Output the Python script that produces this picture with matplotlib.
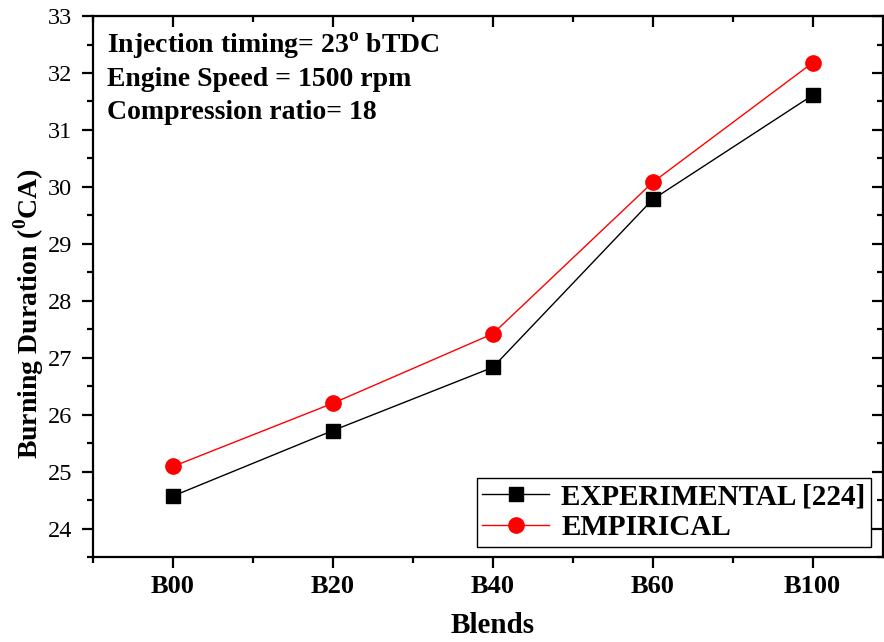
import matplotlib
matplotlib.use('Agg')
import matplotlib.pyplot as plt
from matplotlib.ticker import MultipleLocator

plt.rcParams['font.family'] = ['Liberation Serif', 'DejaVu Serif']
plt.rcParams['mathtext.fontset'] = 'custom'
plt.rcParams['mathtext.rm'] = 'Liberation Serif'
plt.rcParams['mathtext.bf'] = 'Liberation Serif:bold'

blends = ['B00', 'B20', 'B40', 'B60', 'B100']
experimental = [24.57, 25.72, 26.83, 29.78, 31.61]
empirical = [25.09, 26.20, 27.42, 30.08, 32.18]

x = list(range(len(blends)))

fig = plt.figure(figsize=(8.84, 6.42), dpi=100)
ax = fig.add_axes([0.1052, 0.1324, 0.8937, 0.8426])

ax.plot(x, experimental, color='black', lw=1, marker='s', ms=9.5,
        label='EXPERIMENTAL [224]')
ax.plot(x, empirical, color='red', lw=1, marker='o', ms=11,
        label='EMPIRICAL')

ax.set_xlim(-0.5, 4.44)
ax.set_ylim(23.5, 33)
ax.set_xticks(x)
ax.set_xticklabels(blends, fontweight='bold', fontsize=19)
ax.xaxis.set_minor_locator(MultipleLocator(0.5))
ax.yaxis.set_major_locator(MultipleLocator(1))
ax.yaxis.set_minor_locator(MultipleLocator(0.5))

for s in ax.spines.values():
    s.set_linewidth(1.6)

ax.tick_params(which='major', direction='out', length=8, width=1.6, pad=5)
ax.tick_params(which='minor', direction='out', length=4, width=1.6)
ax.tick_params(axis='y', which='major', labelsize=17.5, pad=7)
ax.tick_params(axis='x', which='major', pad=5)

# mirrored ticks on top and right (inward, no labels)
axt = ax.secondary_xaxis('top')
axt.set_xticks(x)
axt.set_xticklabels([])
axt.xaxis.set_minor_locator(MultipleLocator(0.5))
axt.tick_params(which='major', direction='in', length=8, width=1.6)
axt.tick_params(which='minor', direction='in', length=4, width=1.6)
axr = ax.secondary_yaxis('right')
axr.yaxis.set_major_locator(MultipleLocator(1))
axr.yaxis.set_minor_locator(MultipleLocator(0.5))
axr.set_yticklabels([])
axr.tick_params(which='major', direction='in', length=8, width=1.6)
axr.tick_params(which='minor', direction='in', length=4, width=1.6)

ax.set_xlabel('Blends', fontsize=21, fontweight='bold', va='center')
ax.xaxis.set_label_coords(0.506, -0.1275)
ax.set_ylabel(r'Burning Duration ($^{\mathbf{0}}$CA)', fontsize=20,
              fontweight='bold', va='center')
ax.yaxis.set_label_coords(-0.081, 0.45)

ax.text(0.018, 0.945, r'Injection timing= 23$^{\mathbf{o}}$ bTDC',
        transform=ax.transAxes, fontsize=20, fontweight='bold', va='center')
ax.text(0.018, 0.882, 'Engine Speed = 1500 rpm',
        transform=ax.transAxes, fontsize=20, fontweight='bold', va='center')
ax.text(0.018, 0.821, 'Compression ratio= 18',
        transform=ax.transAxes, fontsize=20, fontweight='bold', va='center')

leg = ax.legend(loc='lower right', bbox_to_anchor=(0.985, 0.0185),
                prop={'weight': 'bold', 'size': 21}, fancybox=False,
                edgecolor='black', framealpha=1, handlelength=2.3,
                borderpad=0.2, labelspacing=0.12, handletextpad=0.4,
                borderaxespad=0)
leg.get_frame().set_linewidth(1.0)

fig.savefig('out.png', dpi=100)
